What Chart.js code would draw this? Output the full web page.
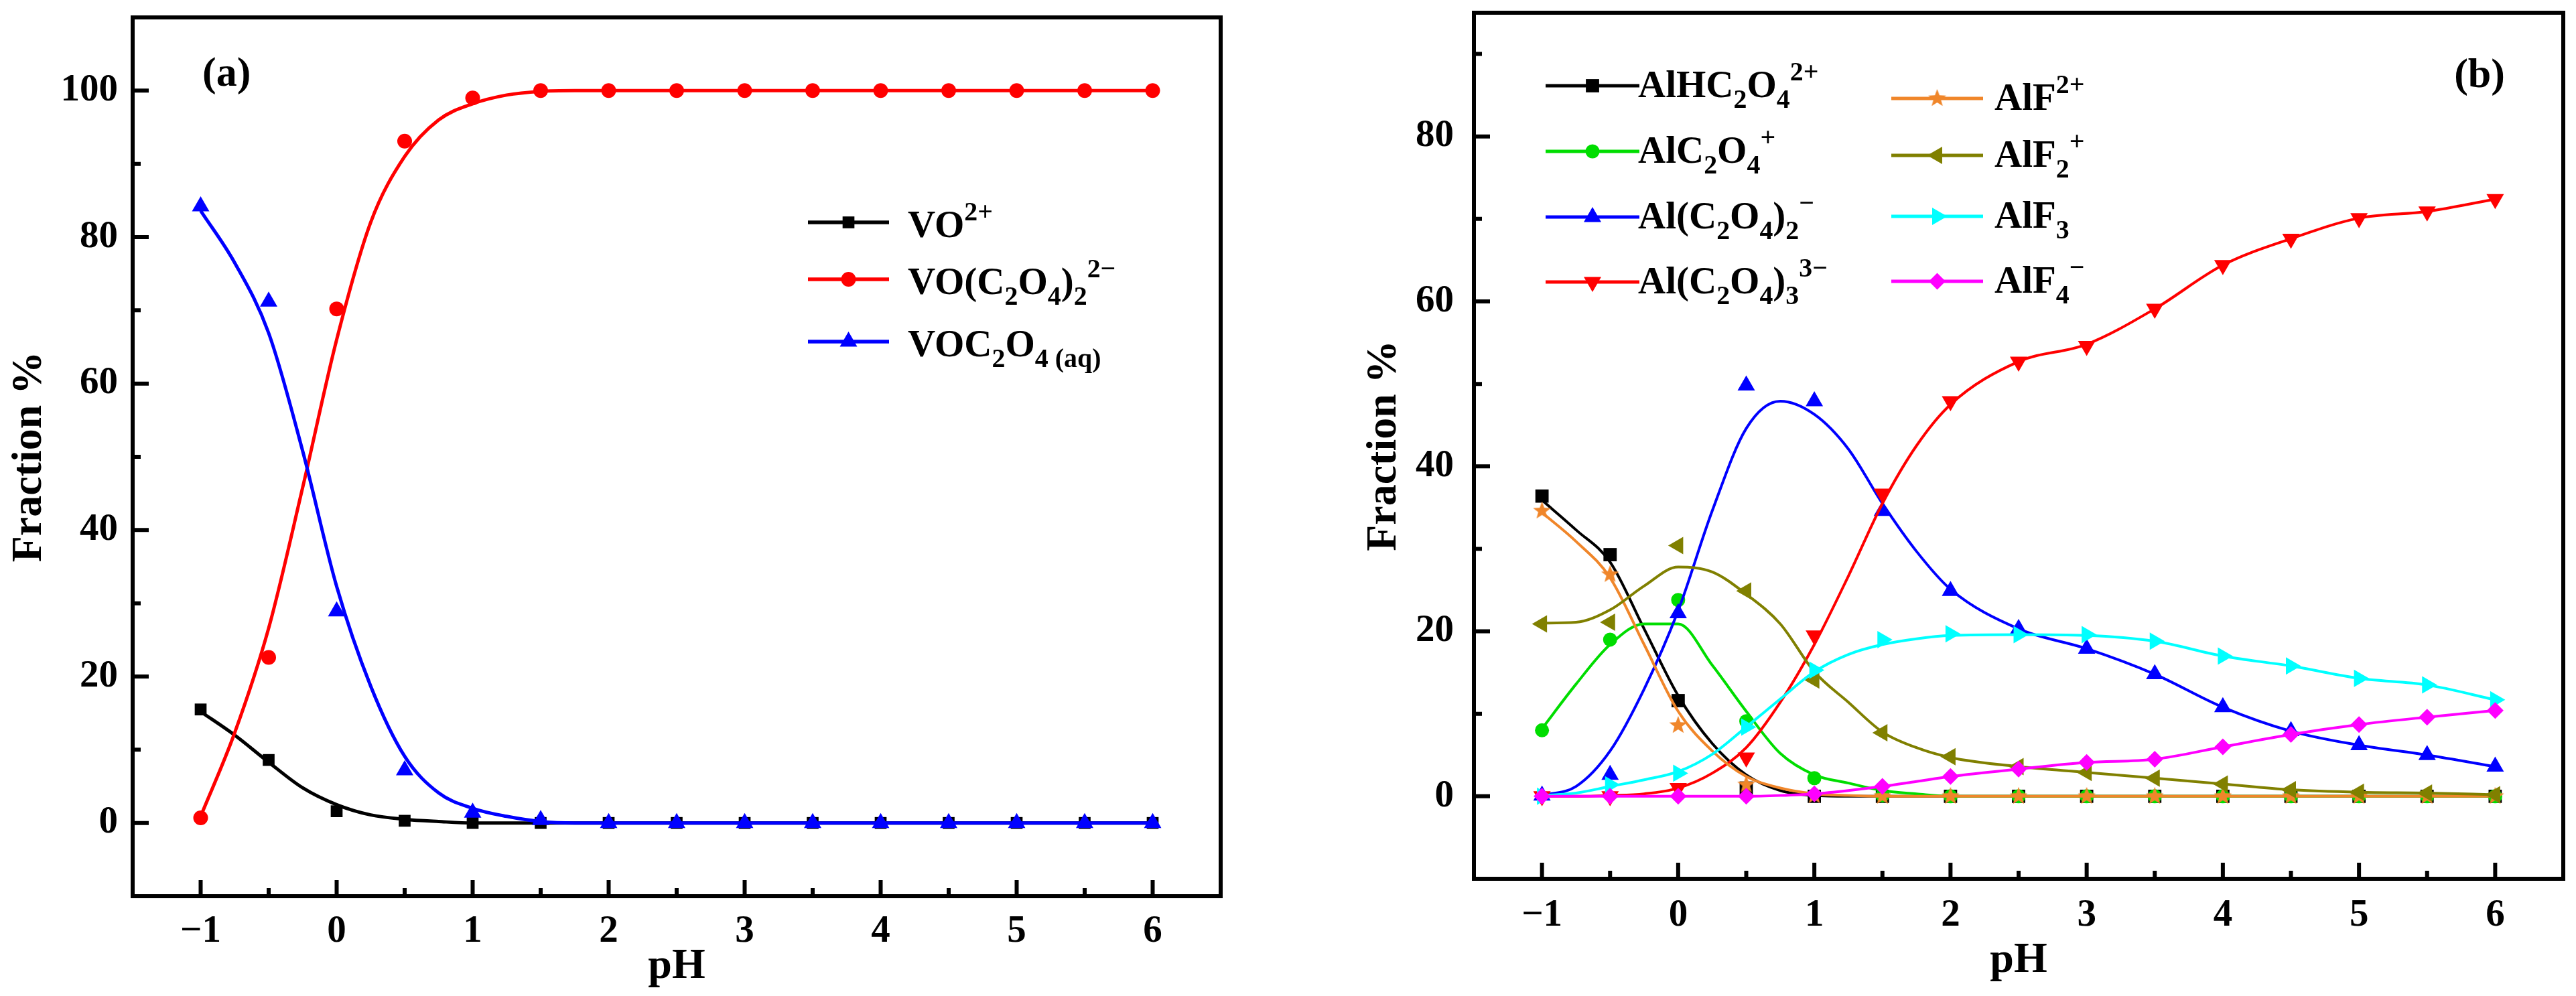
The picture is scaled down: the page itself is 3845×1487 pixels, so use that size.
<!DOCTYPE html>
<html>
<head>
<meta charset="utf-8">
<script src="https://cdn.jsdelivr.net/npm/chart.js@4.4.1/dist/chart.umd.min.js"></script>
<style>
  html, body { margin: 0; padding: 0; background: #fff; }
  #wrap { position: relative; width: 3845px; height: 1487px; }
  .panel { position: absolute; top: 0; height: 1487px; }
</style>
</head>
<body>
<div id="wrap">
  <div class="panel" style="left:0;width:1900px"><canvas id="chartA"></canvas></div>
  <div class="panel" style="left:1900px;width:1945px"><canvas id="chartB"></canvas></div>
</div>
<script>
// ---- data ----
const pH = [-1, -0.5, 0, 0.5, 1, 1.5, 2, 2.5, 3, 3.5, 4, 4.5, 5, 5.5, 6];
const pHCurve = [-1, -0.75, -0.5, -0.25, 0, 0.25, 0.5, 0.75, 1, 1.25, 1.5, 1.75, 2, 2.5, 3, 3.5, 4, 4.5, 5, 5.5, 6];
const xTicks = [-1, 0, 1, 2, 3, 4, 5, 6];
const xMinor = [-0.5, 0.5, 1.5, 2.5, 3.5, 4.5, 5.5];
const yTicksA = [0, 20, 40, 60, 80, 100];
const yTicksB = [0, 20, 40, 60, 80];
const yMinor = [10, 30, 50, 70, 90];

// (a) vanadium species
const vo      = [15.5, 8.6, 1.6, 0.3, 0, 0, 0, 0, 0, 0, 0, 0, 0, 0, 0];
const voOx2   = [0.7, 22.6, 70.2, 93.1, 99, 100, 100, 100, 100, 100, 100, 100, 100, 100, 100];
const voOx    = [84.2, 71.2, 28.9, 7.2, 1.4, 0.4, 0, 0, 0, 0, 0, 0, 0, 0, 0];
const voCurve    = [15.2, 12.0, 8.3, 4.8, 2.5, 1.1, 0.5, 0.2, 0, 0, 0, 0, 0, 0, 0, 0, 0, 0, 0, 0, 0];
const voOx2Curve = [0.9, 12.3, 26.6, 45.8, 66, 82, 91, 96, 98.2, 99.4, 99.9, 100, 100, 100, 100, 100, 100, 100, 100, 100, 100];
const voOxCurve  = [83.6, 76.5, 66.9, 50.8, 32.3, 18.7, 9.1, 4.1, 2.0, 0.9, 0.2, 0, 0, 0, 0, 0, 0, 0, 0, 0, 0];

// (b) aluminium species
const alHOx   = [36.4, 29.3, 11.6, 1.0, 0, 0, 0, 0, 0, 0, 0, 0, 0, 0, 0];
const alOx    = [8.0, 19.0, 23.8, 9.1, 2.2, 0.1, 0, 0, 0, 0, 0, 0, 0, 0, 0];
const alOx2   = [0.1, 2.6, 22.2, 49.8, 47.9, 34.6, 24.9, 20.3, 17.9, 14.8, 10.8, 7.9, 6.2, 5.0, 3.6];
const alOx3   = [0, 0, 1.0, 4.7, 19.5, 36.7, 47.9, 52.7, 54.6, 59.1, 64.4, 67.6, 70.1, 70.9, 72.4];
const alF     = [34.6, 26.9, 8.6, 1.4, 0.1, 0, 0, 0, 0, 0, 0, 0, 0, 0, 0];
const alF2    = [20.9, 21.1, 30.4, 24.9, 14.1, 7.7, 4.8, 3.6, 2.9, 2.2, 1.5, 0.8, 0.5, 0.4, 0.2];
const alF3    = [0, 1.4, 2.8, 8.4, 15.3, 19.0, 19.7, 19.6, 19.6, 18.8, 17.0, 15.8, 14.3, 13.5, 11.7];
const alF4    = [0, 0, 0, 0, 0.3, 1.2, 2.4, 3.3, 4.1, 4.5, 6.0, 7.5, 8.7, 9.6, 10.4];
const alHOxCurve = [35.9, 32.3, 28.4, 20.3, 12.2, 6.4, 2.6, 0.7, 0.1, 0, 0, 0, 0, 0, 0, 0, 0, 0, 0, 0, 0];
const alOxCurve  = [8.2, 13.6, 18.4, 20.9, 20.9, 15.9, 10.3, 5.2, 2.6, 1.6, 0.7, 0.3, 0, 0, 0, 0, 0, 0, 0, 0, 0];
const alOx2Curve = [0.1, 1.2, 5.5, 13, 22.5, 34.6, 44.6, 47.9, 46.3, 42.1, 35.5, 29.7, 25.1, 20.3, 17.9, 14.8, 10.8, 7.9, 6.2, 5.0, 3.6];
const alOx3Curve = [0, 0, 0.1, 0.3, 1.0, 2.8, 5.9, 11.4, 18.4, 26.7, 35.5, 42.5, 47.5, 52.7, 54.8, 59.1, 64.4, 67.6, 70.1, 70.9, 72.4];
const alFCurve   = [34.4, 30.9, 26.5, 18.4, 10.3, 5.5, 2.4, 1.0, 0.3, 0.1, 0, 0, 0, 0, 0, 0, 0, 0, 0, 0, 0];
const alF2Curve  = [21, 21.1, 22.6, 25.5, 27.8, 27.2, 24.5, 20.9, 15.1, 11.4, 7.8, 5.9, 4.7, 3.6, 2.9, 2.2, 1.5, 0.8, 0.5, 0.4, 0.2];
const alF3Curve  = [0.1, 0.4, 1.2, 2.0, 3.0, 5.1, 8.4, 11.8, 15.1, 17.2, 18.4, 19.1, 19.5, 19.6, 19.5, 18.8, 17.0, 15.8, 14.3, 13.5, 11.7];
const alF4Curve  = [0, 0, 0, 0, 0, 0, 0, 0.1, 0.3, 0.7, 1.2, 1.8, 2.4, 3.3, 4.1, 4.5, 6.0, 7.5, 8.7, 9.6, 10.4];

const FONT = '"Liberation Serif", "Times New Roman", serif';
Chart.defaults.color = '#000';

function fmt(v) {
  return v < 0 ? '\u2212' + Math.abs(v) : String(v);
}

function starImage(size, color) {
  const c = document.createElement('canvas');
  c.width = c.height = size;
  const g = c.getContext('2d');
  g.fillStyle = color;
  g.beginPath();
  for (let i = 0; i < 10; i++) {
    const r = i % 2 ? size * 0.21 : size * 0.5;
    const a = -Math.PI / 2 + i * Math.PI / 5;
    g.lineTo(size / 2 + r * Math.cos(a), size / 2 + r * Math.sin(a));
  }
  g.closePath();
  g.fill();
  return c;
}

// one series = smooth curve + its symbols
function makeSeries(label, color, style, rot, radius, lw, ys, curveYs, pos) {
  return [
    {
      label: label,
      data: pHCurve.map((x, i) => ({ x: x, y: curveYs[i] })),
      borderColor: color,
      borderWidth: lw,
      pointRadius: 0,
      tension: 0.4,
      cubicInterpolationMode: 'monotone',
      fill: false
    },
    {
      label: label,
      data: pH.map((x, i) => ({ x: x, y: ys[i] })),
      showLine: false,
      pointStyle: style,
      pointRotation: rot,
      pointRadius: radius,
      pointBackgroundColor: color,
      pointBorderColor: color,
      pointBorderWidth: 0,
      legendPos: pos
    }
  ];
}

function withOrder(sets) {
  sets.forEach((d, i) => { d.order = sets.length - i; });
  return sets;
}

// text with _{sub} and ^{sup}
function drawRich(ctx, text, x, y, size) {
  const re = /([_^])\{([^}]*)\}/g;
  const parts = [];
  let last = 0, m;
  while ((m = re.exec(text))) {
    if (m.index > last) parts.push([text.slice(last, m.index), 0]);
    parts.push([m[2], m[1] === '^' ? 1 : -1]);
    last = re.lastIndex;
  }
  if (last < text.length) parts.push([text.slice(last), 0]);
  parts.forEach(p => {
    const k = p[1];
    const fs = k === 0 ? size : size * 0.7;
    const dy = k === 1 ? -size * 0.44 : (k === -1 ? size * 0.28 : 0);
    ctx.font = 'bold ' + fs + 'px ' + FONT;
    ctx.fillText(p[0], x, y + dy);
    x += ctx.measureText(p[0]).width;
  });
}

const framePlugin = {
  id: 'frame',
  afterDatasetsDraw(chart, args, opts) {
    const ctx = chart.ctx;
    const a = chart.chartArea;
    const x = chart.scales.x, y = chart.scales.y;
    ctx.save();
    ctx.strokeStyle = '#000';
    ctx.lineWidth = 6;
    ctx.strokeRect(a.left, a.top, a.right - a.left, a.bottom - a.top);
    ctx.beginPath();
    xTicks.forEach(v => {
      const px = x.getPixelForValue(v);
      ctx.moveTo(px, a.bottom); ctx.lineTo(px, a.bottom - 24);
    });
    xMinor.forEach(v => {
      const px = x.getPixelForValue(v);
      ctx.moveTo(px, a.bottom); ctx.lineTo(px, a.bottom - 12);
    });
    opts.yMajor.forEach(v => {
      const py = y.getPixelForValue(v);
      ctx.moveTo(a.left, py); ctx.lineTo(a.left + 24, py);
    });
    yMinor.forEach(v => {
      const py = y.getPixelForValue(v);
      ctx.moveTo(a.left, py); ctx.lineTo(a.left + 12, py);
    });
    ctx.stroke();
    ctx.restore();
  }
};

const legendPlugin = {
  id: 'richLegend',
  afterDraw(chart, args, opts) {
    const ctx = chart.ctx;
    chart.data.datasets.forEach(ds => {
      if (!ds.legendPos) return;
      const [x1, x2, y, tx] = ds.legendPos;
      ctx.save();
      ctx.strokeStyle = ds.pointBackgroundColor;
      ctx.lineWidth = opts.lineWidth;
      ctx.beginPath();
      ctx.moveTo(x1, y);
      ctx.lineTo(x2, y);
      ctx.stroke();
      ctx.fillStyle = ds.pointBackgroundColor;
      Chart.helpers.drawPoint(ctx, {
        pointStyle: ds.pointStyle,
        rotation: ds.pointRotation,
        radius: ds.pointRadius,
        borderWidth: 0
      }, (x1 + x2) / 2, y);
      ctx.fillStyle = '#000';
      ctx.textAlign = 'left';
      ctx.textBaseline = 'alphabetic';
      drawRich(ctx, ds.label, tx, y + opts.baseShift, opts.size);
      ctx.restore();
    });
    const t = opts.tag;
    ctx.save();
    ctx.fillStyle = '#000';
    ctx.font = 'bold ' + t.size + 'px ' + FONT;
    ctx.textAlign = t.align;
    ctx.textBaseline = 'middle';
    ctx.fillText(t.text, t.x, t.y);
    ctx.restore();
  }
};

function noPad(s) {
  s.paddingTop = 0;
  s.paddingBottom = 0;
  s.paddingLeft = 0;
  s.paddingRight = 0;
}

function makeOptions(cfg) {
  return {
    responsive: true,
    maintainAspectRatio: false,
    animation: false,
    devicePixelRatio: 1,
    events: [],
    layout: { padding: { top: cfg.top, right: cfg.right, left: 0, bottom: 0 } },
    scales: {
      x: {
        type: 'linear',
        min: -1.5,
        max: 6.5,
        afterBuildTicks: s => { s.ticks = xTicks.map(v => ({ value: v })); },
        afterFit: s => { s.height = cfg.xHeight; noPad(s); },
        grid: { display: false, drawTicks: false },
        border: { display: false },
        ticks: { font: { family: FONT, size: 57, weight: 'bold' }, padding: cfg.xPad, maxRotation: 0, autoSkip: false, callback: fmt },
        title: { display: true, text: 'pH', font: { family: FONT, size: 64, weight: 'bold' }, padding: { top: 0, bottom: cfg.xTitle } }
      },
      y: {
        min: -10,
        max: cfg.yMax,
        afterBuildTicks: s => { s.ticks = cfg.yMajor.map(v => ({ value: v })); },
        afterFit: s => { s.width = cfg.yWidth; noPad(s); },
        grid: { display: false, drawTicks: false },
        border: { display: false },
        ticks: { font: { family: FONT, size: 57, weight: 'bold' }, padding: cfg.yPad, callback: fmt },
        title: { display: true, text: 'Fraction %', font: { family: FONT, size: 64, weight: 'bold' }, padding: { top: cfg.yTitle, bottom: 0 } }
      }
    },
    plugins: {
      legend: { display: false },
      tooltip: { enabled: false },
      frame: { yMajor: cfg.yMajor },
      richLegend: { lineWidth: cfg.legendLine, size: cfg.legendSize, baseShift: cfg.baseShift, tag: cfg.tag }
    }
  };
}

// ---- panel (a) ----
const setsA = withOrder([].concat(
  makeSeries('VO^{2+}', '#000000', 'rect', 0, 12.5, 5, vo, voCurve, [1206, 1327, 332, 1355]),
  makeSeries('VO(C_{2}O_{4})_{2}^{2\u2212}', '#ff0000', 'circle', 0, 11, 5, voOx2, voOx2Curve, [1206, 1327, 417, 1355]),
  makeSeries('VOC_{2}O_{4 (aq)}', '#0000ff', 'triangle', 0, 15, 5, voOx, voOxCurve, [1206, 1327, 510, 1355])
));

new Chart(document.getElementById('chartA'), {
  type: 'line',
  data: { datasets: setsA },
  options: makeOptions({
    top: 26, right: 78, xHeight: 149, yWidth: 198, xPad: 19, yPad: 22, xTitle: 5, yTitle: 6,
    yMax: 110, yMajor: yTicksA, legendLine: 5.5, legendSize: 57, baseShift: 22,
    tag: { text: '(a)', x: 302, y: 112, size: 62, align: 'left' }
  }),
  plugins: [framePlugin, legendPlugin]
});

// ---- panel (b) ----
const star = starImage(28, '#f0862a');
const setsB = withOrder([].concat(
  makeSeries('AlHC_{2}O_{4}^{2+}', '#000000', 'rect', 0, 14, 4, alHOx, alHOxCurve, [407, 547, 128, 545]),
  makeSeries('AlC_{2}O_{4}^{+}', '#00dd00', 'circle', 0, 10.5, 4, alOx, alOxCurve, [407, 547, 226, 545]),
  makeSeries('Al(C_{2}O_{4})_{2}^{\u2212}', '#0000ff', 'triangle', 0, 15, 4, alOx2, alOx2Curve, [407, 547, 324, 545]),
  makeSeries('Al(C_{2}O_{4})_{3}^{3\u2212}', '#ff0000', 'triangle', 180, 15, 4, alOx3, alOx3Curve, [407, 547, 421, 545]),
  makeSeries('AlF^{2+}', '#f0862a', star, 0, 14, 4, alF, alFCurve, [923, 1060, 147, 1077]),
  makeSeries('AlF_{2}^{+}', '#808000', 'triangle', -90, 15, 4, alF2, alF2Curve, [923, 1060, 232, 1077]),
  makeSeries('AlF_{3}', '#00ffff', 'triangle', 90, 15, 4, alF3, alF3Curve, [923, 1060, 323, 1077]),
  makeSeries('AlF_{4}^{\u2212}', '#ff00ff', 'rectRot', 0, 12.5, 4, alF4, alF4Curve, [923, 1060, 420, 1077])
));

new Chart(document.getElementById('chartB'), {
  type: 'line',
  data: { datasets: setsB },
  options: makeOptions({
    top: 19, right: 19, xHeight: 175, yWidth: 300, xPad: 21, yPad: 30, xTitle: 14, yTitle: 128,
    yMax: 95, yMajor: yTicksB, legendLine: 5, legendSize: 57, baseShift: 17,
    tag: { text: '(b)', x: 1839, y: 114, size: 62, align: 'right' }
  }),
  plugins: [framePlugin, legendPlugin]
});
</script>
</body>
</html>
